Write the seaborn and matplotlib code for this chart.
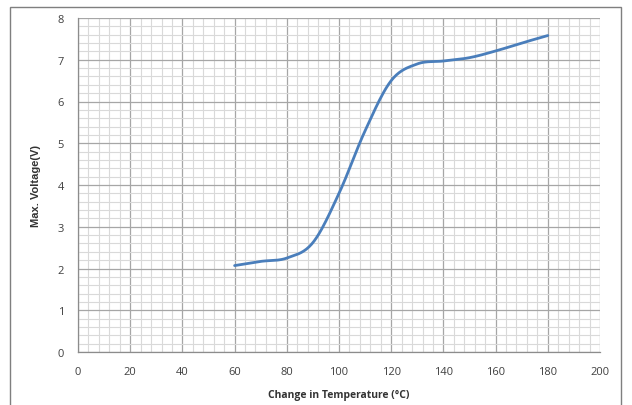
import numpy as np
import matplotlib
matplotlib.use("Agg")
import matplotlib.pyplot as plt
import seaborn as sns
from matplotlib.patches import Rectangle

sns.set_style("white")
plt.rcParams['font.family'] = ['Open Sans', 'DejaVu Sans']

# values
temp = [60, 70, 80, 90, 100, 110, 120, 130, 140, 150, 160, 170, 180]
volt = [2.07, 2.17, 2.25, 2.62, 3.8, 5.3, 6.5, 6.9, 6.97, 7.05, 7.21, 7.4, 7.58]


# Excel-style smoothed line (Catmull-Rom through the points)
def smooth(x, y, n=20):
    p = np.column_stack([x, y]).astype(float)
    p = np.vstack([p[0], p, p[-1]])
    out = []
    t = np.linspace(0, 1, n, endpoint=False)[:, None]
    for i in range(1, len(p) - 2):
        p0, p1, p2, p3 = p[i - 1], p[i], p[i + 1], p[i + 2]
        seg = 0.5 * ((2 * p1) + (-p0 + p2) * t + (2 * p0 - 5 * p1 + 4 * p2 - p3) * t ** 2
                     + (-p0 + 3 * p1 - 3 * p2 + p3) * t ** 3)
        out.append(seg)
    out.append(p[-2][None, :])
    out = np.vstack(out)
    return out[:, 0], out[:, 1]


sx, sy = smooth(temp, volt)

fig = plt.figure(figsize=(6.32, 4.06), dpi=100)
ax = fig.add_axes([78 / 632, 1 - 353 / 406, 522 / 632, 334 / 406])

# grid: minor every 4 / 0.2, major every 20 / 1
ax.set_xticks(np.arange(0, 201, 20))
ax.set_yticks(np.arange(0, 9, 1))
ax.set_xticks(np.arange(0, 201, 4), minor=True)
ax.set_yticks(np.arange(0, 8.01, 0.2), minor=True)
ax.grid(True, which='minor', color='#d9d9d9', linewidth=0.8)
ax.grid(True, which='major', color='#a6a6a6', linewidth=0.9)
ax.set_axisbelow(True)

sns.lineplot(x=sx, y=sy, ax=ax, color='#4a7ebb', linewidth=2.0, sort=False)

ax.set_xlim(0, 200)
ax.set_ylim(0, 8)
for s in ['top', 'right']:
    ax.spines[s].set_visible(False)
for s in ['left', 'bottom']:
    ax.spines[s].set_color('#8c8c8c')
    ax.spines[s].set_linewidth(0.9)
ax.tick_params(which='major', length=4, color='#8c8c8c', labelsize=8, labelcolor='#404040', pad=6)
ax.tick_params(which='minor', length=0)

ax.set_xlabel('Change in Temperature (°C)', fontsize=7.5, fontweight='bold', color='#333333', labelpad=9)
ax.set_ylabel('Max. Voltage(V)', fontsize=8, fontweight='bold', color='#333333', labelpad=12,
              fontstretch='condensed', family=['Liberation Sans Narrow', 'Liberation Sans', 'DejaVu Sans'])

# outer chart frame
fig.patches.append(Rectangle((10 / 632, -0.02), 611 / 632, 1 - 8 / 406 + 0.02,
                             transform=fig.transFigure, fill=False,
                             edgecolor='#7f7f7f', linewidth=1))

fig.savefig('out.png', dpi=100)
